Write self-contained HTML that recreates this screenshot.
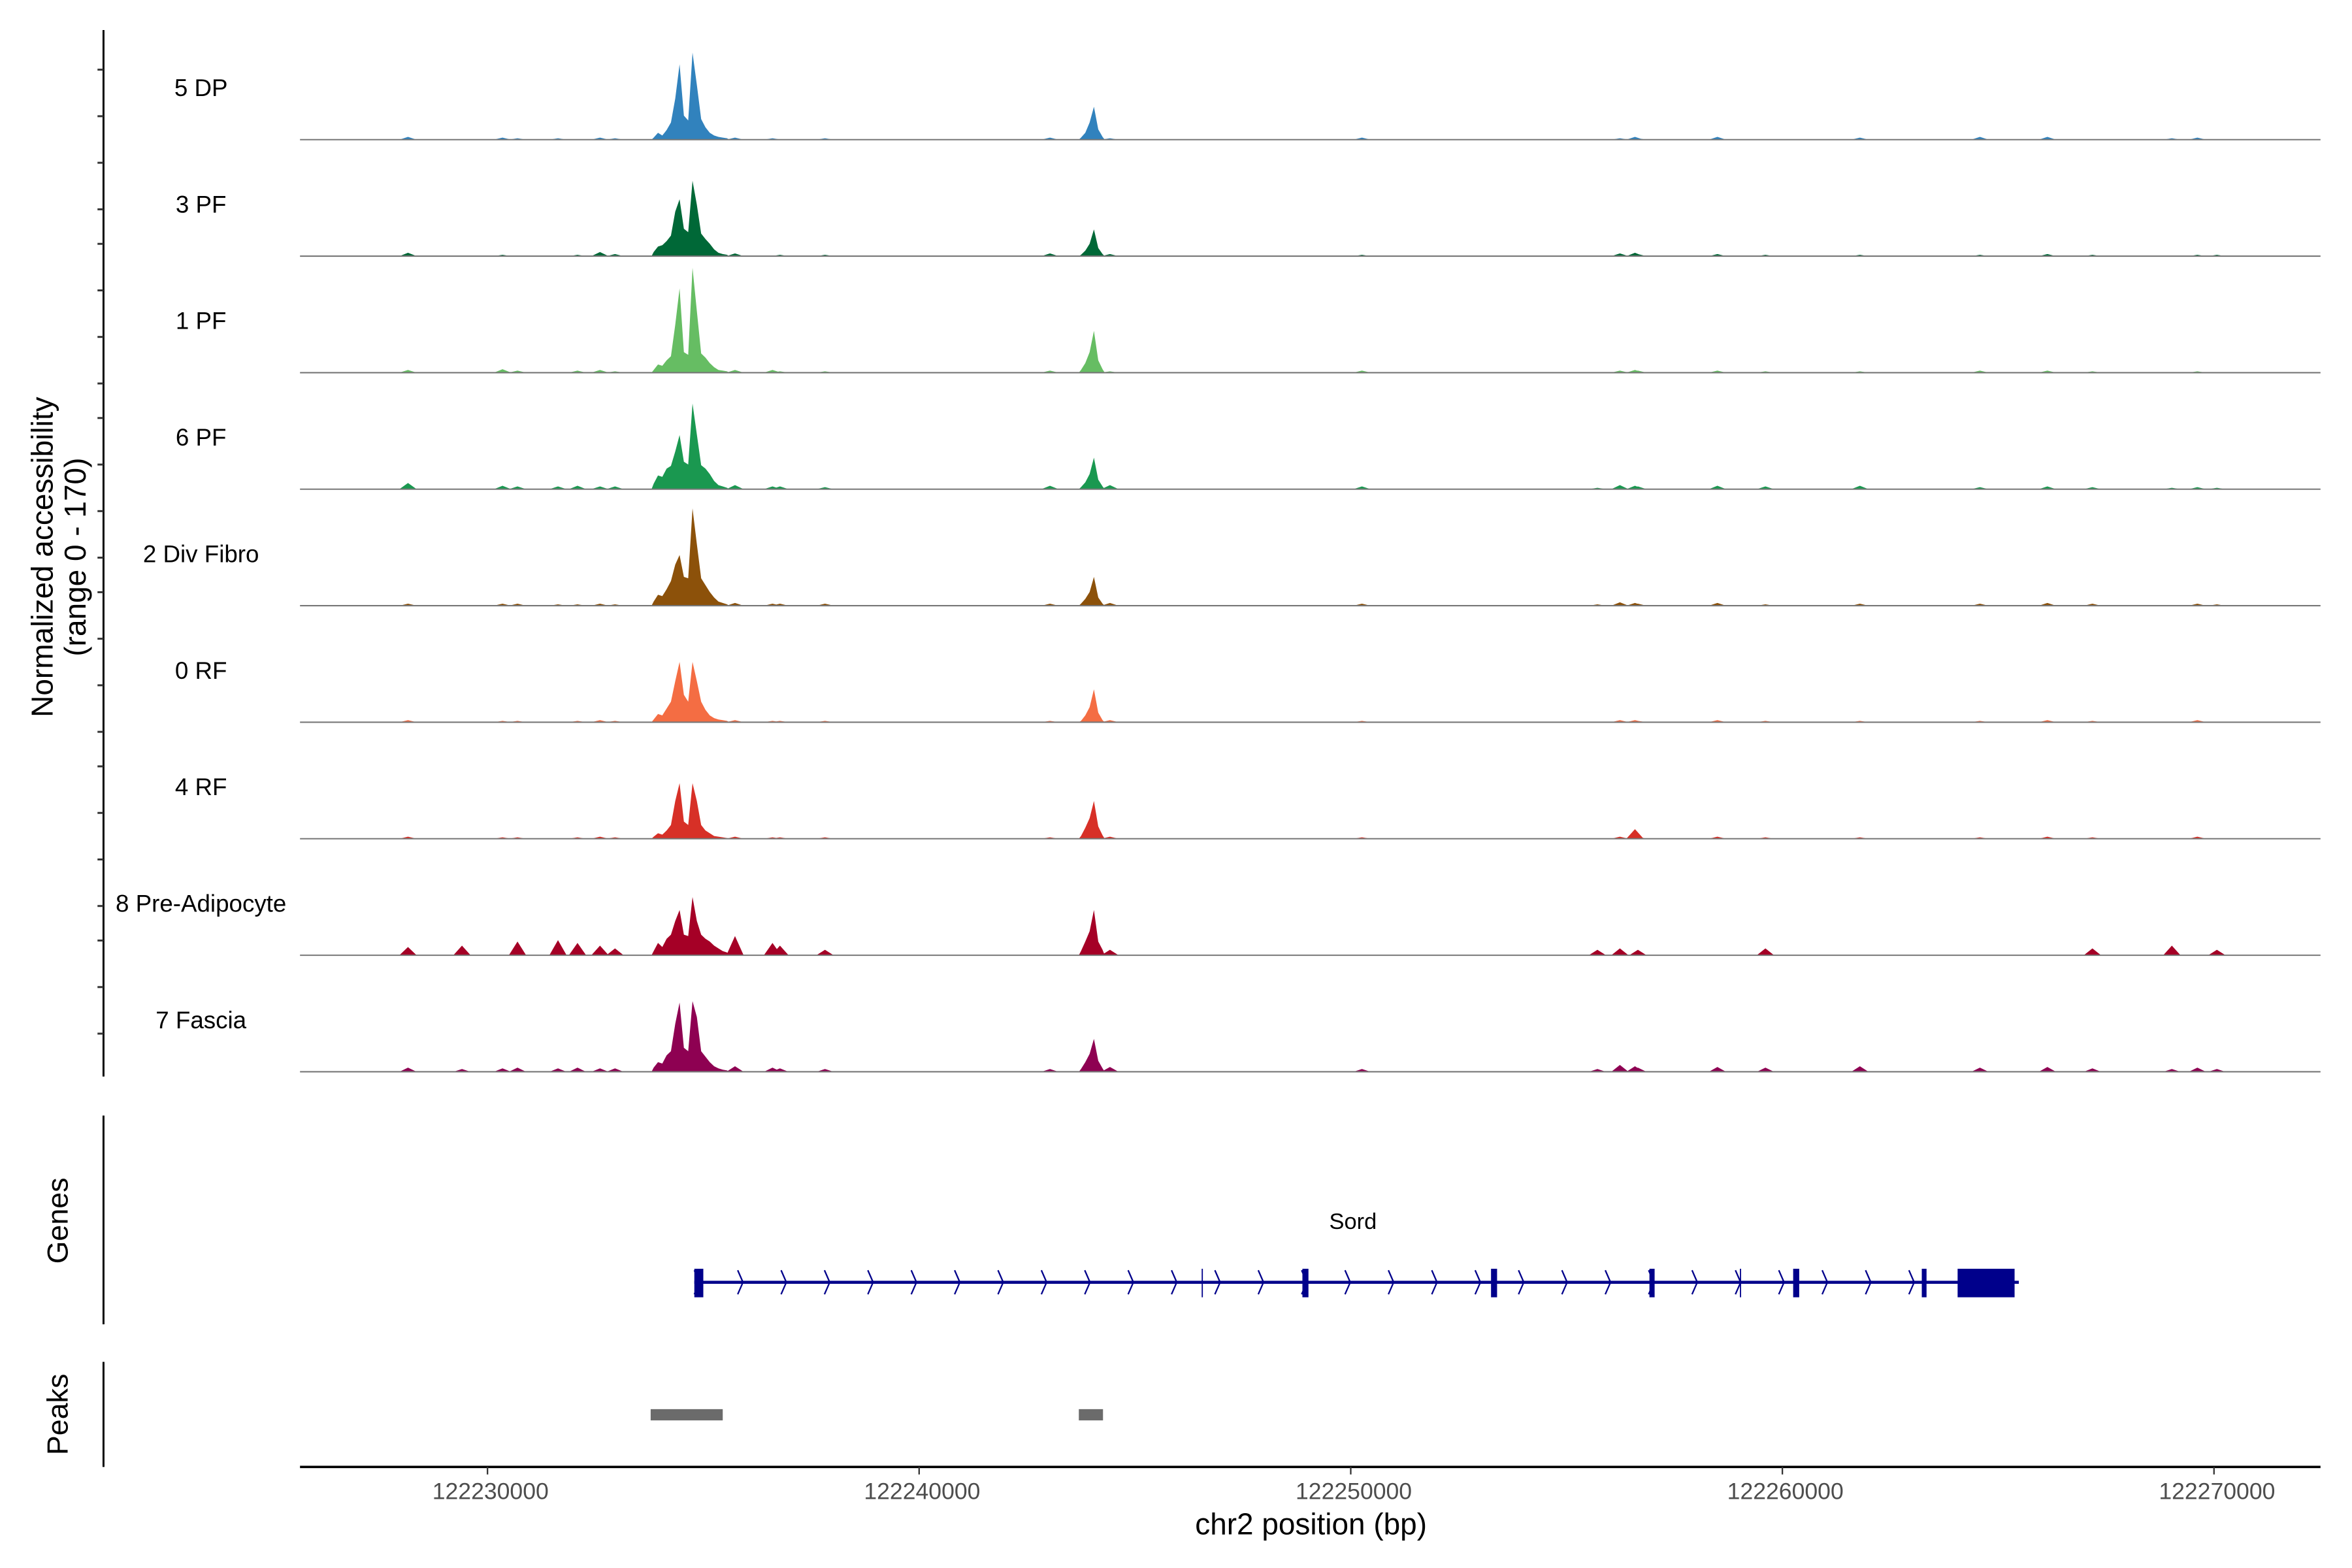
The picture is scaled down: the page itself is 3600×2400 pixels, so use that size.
<!DOCTYPE html>
<html><head><meta charset="utf-8"><style>
html,body{margin:0;padding:0;background:#fff;}
svg{display:block;font-family:"Liberation Sans",sans-serif;}
</style></head><body>
<svg id="chart" width="3600" height="2400" viewBox="0 0 1568 1044.3" preserveAspectRatio="none" xmlns="http://www.w3.org/2000/svg">
<g id="tracks"></g>
<g id="axes"></g>
<g id="genes"></g>
<g id="peaks"></g>
</svg>
<script>
const trackNames = ["5 DP","3 PF","1 PF","6 PF","2 Div Fibro","0 RF","4 RF","8 Pre-Adipocyte","7 Fascia"];
const trackColors = ["#3182bd","#006837","#66bd63","#1a9850","#8c510a","#f46d43","#d73027","#a50026","#8e0152"];
const yMax = 170;
const xTicks = [122230000,122240000,122250000,122260000,122270000];
const mainStart = 122233800;
const secondStart = 122243700;
const mainVals = [
 [3,10,6,14,25,60,110,35,28,127,80,30,18,10,6,4,3,2],
 [6,14,16,22,30,65,83,40,35,110,75,33,25,18,10,5,3,2],
 [4,12,10,18,24,70,123,30,26,153,90,28,22,14,8,4,3,2],
 [8,20,18,30,34,55,79,40,36,125,80,35,30,22,12,6,4,2],
 [6,16,14,24,36,60,74,42,40,142,90,40,30,20,12,6,4,2],
 [4,12,10,20,30,60,88,40,30,88,60,30,18,10,6,4,3,2],
 [3,8,6,12,20,55,81,25,20,81,55,20,12,8,4,3,2,1],
 [6,18,12,24,30,50,66,30,28,85,50,30,24,20,14,10,6,4],
 [6,14,12,24,30,70,101,35,30,103,80,30,22,14,8,5,3,2]
];
const secondVals = [
 [3,10,25,48,15,4],[2,8,18,39,12,3],[4,14,30,61,18,5],[3,10,22,46,14,4],
 [3,10,20,42,12,3],[2,10,22,48,14,3],[4,16,30,55,18,5],[6,20,35,66,20,8],[4,14,26,48,16,5]
];
const bgPos = [122228158,122229409,122230348,122230695,122231633,122232085,122232606,122232954,122235734,122236603,122236776,122237819,122243031,122244421,122250260,122255715,122256236,122256585,122256653,122258495,122259607,122261796,122264577,122266140,122267183,122269024,122269615,122270067];
const bgVals = [
 [4,0,3,2,2,0,3,2,3,2,0,2,3,2,3,0,2,4,2,4,0,3,4,4,0,2,3,0],
 [5,0,2,0,0,2,6,3,4,0,2,2,4,3,2,0,4,5,3,3,2,2,2,3,2,0,2,2],
 [4,0,5,3,0,3,4,2,4,4,2,2,3,2,3,0,3,4,3,3,2,2,3,3,2,0,2,0],
 [9,0,5,4,4,5,4,4,6,4,4,3,5,6,4,2,6,5,4,5,4,5,3,4,3,2,3,2],
 [3,0,3,3,2,2,3,2,4,3,3,3,3,4,3,2,5,4,3,4,2,3,3,4,3,0,3,2],
 [3,0,2,2,0,2,3,2,3,2,2,2,2,3,2,0,3,3,2,3,2,2,2,3,2,0,3,0],
 [3,0,2,2,0,2,3,2,3,2,2,2,2,3,2,0,3,14,3,3,2,2,2,3,2,0,3,0],
 [12,14,0,20,22,18,14,10,28,18,14,8,0,8,0,8,10,0,8,0,10,0,0,0,10,14,0,8],
 [6,4,5,6,5,6,5,5,8,6,5,4,4,7,4,4,10,8,6,7,6,8,6,7,5,4,6,4]
];
const geneStart = 122234792, geneEnd = 122265478;
const exonStarts = [122234792,122248880,122253250,122256920,122260250,122263230,122264060];
const exonEnds   = [122235000,122249020,122253390,122257040,122260390,122263340,122265380];
const thinMarks = [122246560,122259030];
const peakStarts = [122233780,122243700];
const peakEnds   = [122235450,122244260];

const NS="http://www.w3.org/2000/svg";
function x(p){return 325+(p-122230000)*0.028775;}
const trackSpacing=77.6, trackH=77.6;
function baseY(i){return 93+i*trackSpacing;}
function yv(i,v){return baseY(i)-v/yMax*trackH;}
function mk(tag,attrs,parent){const e=document.createElementNS(NS,tag);for(const k in attrs)e.setAttribute(k,attrs[k]);parent.appendChild(e);return e;}
const T=document.getElementById('tracks'),A=document.getElementById('axes'),G=document.getElementById('genes'),P=document.getElementById('peaks');

function areaPath(i,start,vals,step){
  const y0=baseY(i);
  let d=`M${x(start-step/2).toFixed(2)},${y0}`;
  vals.forEach((v,k)=>{d+=`L${x(start+k*step).toFixed(2)},${yv(i,v).toFixed(2)}`;});
  d+=`L${x(start+(vals.length-1)*step+step/2).toFixed(2)},${y0}Z`;
  return d;
}
for(let i=0;i<trackNames.length;i++){
  let d=areaPath(i,mainStart+50,mainVals[i],100)+areaPath(i,secondStart+50,secondVals[i],100);
  bgVals[i].forEach((v,k)=>{if(v>0){const c=bgPos[k];
    d+=`M${x(c-200).toFixed(2)},${baseY(i)}L${x(c).toFixed(2)},${yv(i,v).toFixed(2)}L${x(c+200).toFixed(2)},${baseY(i)}Z`;}});
  const p=mk('path',{d:d,fill:trackColors[i]},T);
  
  
  const bl=mk('line',{x1:200,x2:1547,y1:baseY(i),y2:baseY(i),stroke:'#777','stroke-width':0.9},T);
  
  
  const t=mk('text',{x:134,y:baseY(i)-29,'text-anchor':'middle','font-size':16,fill:'#000'},T);
  t.textContent=trackNames[i];
  
  
}
let l=mk('line',{x1:69,x2:69,y1:20,y2:717,stroke:'#000','stroke-width':1.3},A);


for(let g=0;g<6;g++){for(const o of [0,31,62,93]){const ty=46.4+g*116+o;if(ty>716)continue;
  const tk=mk('line',{x1:65,x2:69,y1:ty,y2:ty,stroke:'#333','stroke-width':1.3},A);
  
  }}
let yl=mk('text',{transform:'translate(35,371) rotate(-90)','text-anchor':'middle','font-size':20},A);
yl.textContent='Normalized accessibility';


let yl2=mk('text',{transform:'translate(57,371) rotate(-90)','text-anchor':'middle','font-size':20},A);
yl2.textContent='(range 0 - 170)';


let xa=mk('line',{x1:200,x2:1547,y1:977,y2:977,stroke:'#000','stroke-width':1.6},A);


xTicks.forEach(v=>{const tk=mk('line',{x1:x(v),x2:x(v),y1:977,y2:982,stroke:'#333','stroke-width':1},A);
  
  
  const tl=mk('text',{x:x(v)+2,y:998.5,'text-anchor':'middle','font-size':15.5,fill:'#4d4d4d'},A);tl.textContent=String(v);
  
  });
let xt=mk('text',{x:874,y:1022,'text-anchor':'middle','font-size':20},A);
xt.textContent='chr2 position (bp)';


let ga=mk('line',{x1:69,x2:69,y1:743,y2:882,stroke:'#000','stroke-width':1.3},G);


let gt=mk('text',{transform:'translate(45,813) rotate(-90)','text-anchor':'middle','font-size':19.5},G);
gt.textContent='Genes';


let sl=mk('text',{x:902,y:818.5,'text-anchor':'middle','font-size':15},G);
sl.textContent='Sord';


let gl=mk('line',{x1:x(geneStart),x2:x(geneEnd),y1:854,y2:854,stroke:'#00008b','stroke-width':2},G);


for(let p=geneStart;p<exonStarts[exonStarts.length-1]-300;p+=1005){
  const cx=x(p)+2;
  const c=mk('path',{d:`M${cx-2},846L${cx+1.5},854L${cx-2},862`,fill:'none',stroke:'#00008b','stroke-width':1},G);
  
  }
exonStarts.forEach((s,k)=>{const x0=x(s),x1=Math.max(x(exonEnds[k]),x0+2.4);
  const r=mk('rect',{x:x0,y:845,width:x1-x0,height:19,fill:'#00008b'},G);
  
  });
thinMarks.forEach(s=>{const r=mk('line',{x1:x(s),x2:x(s),y1:845,y2:864,stroke:'#00008b','stroke-width':0.8},G);
  
  });
let pa=mk('line',{x1:69,x2:69,y1:907,y2:977,stroke:'#000','stroke-width':1.3},P);


let pt=mk('text',{transform:'translate(45,942) rotate(-90)','text-anchor':'middle','font-size':19.5},P);
pt.textContent='Peaks';


peakStarts.forEach((s,k)=>{const r=mk('rect',{x:x(s),y:938.5,width:x(peakEnds[k])-x(s),height:7.5,fill:'#6b6b6b'},P);
  
  });
</script>
</body></html>
